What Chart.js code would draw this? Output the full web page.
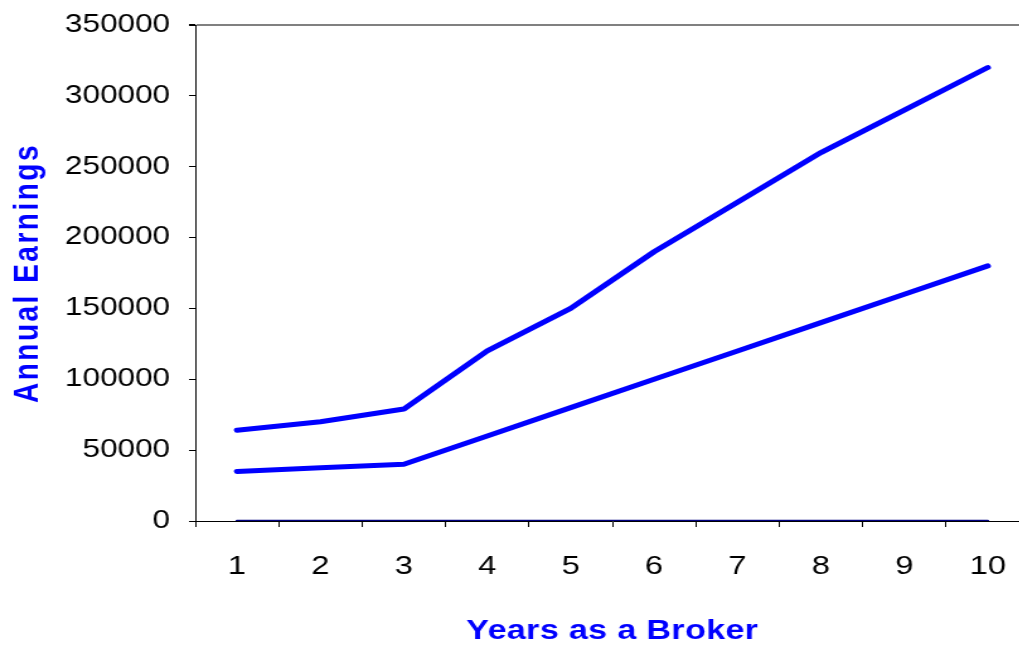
<!DOCTYPE html>
<html>
<head>
<meta charset="utf-8">
<title>Annual Earnings vs Years as a Broker</title>
<script src="https://cdn.jsdelivr.net/npm/chart.js@4.4.1/dist/chart.umd.min.js"></script>
<style>
  html, body { margin: 0; padding: 0; background: #fff; overflow: hidden; }
  /* the original chart is stretched sideways, text included */
  #wrap { width: 830px; height: 645px; transform: scaleX(1.26); transform-origin: 0 0; }
</style>
</head>
<body>
<div id="wrap"><canvas id="chart"></canvas></div>
<script>
  const years = ['1', '2', '3', '4', '5', '6', '7', '8', '9', '10'];
  const upperEarnings = [64000, 70000, 79000, 120000, 150000, 190000, 225000, 260000, 290000, 320000];
  const lowerEarnings = [35000, 37500, 40000, 60000, 80000, 100000, 120000, 140000, 160000, 180000];
  const baseEarnings = [0, 0, 0, 0, 0, 0, 0, 0, 0, 0];
  const yTicks = [0, 50000, 100000, 150000, 200000, 250000, 300000, 350000];

  const FONT = "'Liberation Sans', Arial, sans-serif";
  const blue = '#0000ff';

  // canvas text has no letter-spacing option in Chart.js, so set it around the axis titles
  const titleSpacing = {
    id: 'titleSpacing',
    beforeDraw(chart) {
      Object.values(chart.scales).forEach((s) => {
        if (s._spacedTitle) return;
        const drawTitle = s.drawTitle.bind(s);
        s.drawTitle = function () {
          const ctx = this.ctx;
          ctx.save();
          ctx.letterSpacing = this.options.title.spacing || '0px';
          drawTitle();
          ctx.restore();
        };
        s._spacedTitle = true;
      });
    },
  };

  const line = (data, color, width) => ({
    data,
    borderColor: color,
    backgroundColor: color,
    borderWidth: width,
    pointRadius: 0,
    pointHoverRadius: 0,
    tension: 0,
    fill: false,
    borderCapStyle: 'round',
    borderJoinStyle: 'round',
  });

  new Chart(document.getElementById('chart'), {
    type: 'line',
    data: {
      labels: years,
      datasets: [
        line(upperEarnings, blue, 5),
        line(lowerEarnings, blue, 5),
        line(baseEarnings, '#000080', 2.5),
      ],
    },
    options: {
      responsive: true,
      maintainAspectRatio: false,
      animation: false,
      devicePixelRatio: 1,
      layout: { padding: { top: 25, right: 13, left: 0, bottom: 0 } },
      plugins: { legend: { display: false }, tooltip: { enabled: false } },
      scales: {
        x: {
          type: 'category',
          offset: true,
          grid: { offset: true, drawOnChartArea: false, tickLength: 6, tickColor: '#000', lineWidth: 1 },
          border: { color: '#000', width: 1 },
          ticks: { color: '#000', font: { family: FONT, size: 26 }, padding: 24, maxRotation: 0, autoSkip: false },
          title: {
            display: true,
            text: 'Years as a Broker',
            color: blue,
            font: { family: FONT, size: 27, weight: 'bold', lineHeight: 1.0 },
            padding: { top: 0, bottom: 0 },
            spacing: '0.3px',
          },
          afterFit: (s) => { s.height = 124; },
        },
        y: {
          min: 0,
          max: 350000,
          afterBuildTicks: (s) => { s.ticks = yTicks.map((v) => ({ value: v })); },
          grid: {
            drawOnChartArea: true,
            color: (c) => (c.tick && c.tick.value === 350000 ? '#808080' : 'rgba(0,0,0,0)'),
            lineWidth: (c) => (c.tick && c.tick.value === 350000 ? 2 : 1),
            tickColor: '#000',
            tickLength: 5,
          },
          border: { color: '#000', width: 1 },
          ticks: { color: '#000', font: { family: FONT, size: 25 }, padding: 15, callback: (v) => String(v) },
          title: {
            display: true,
            text: 'Annual Earnings',
            color: blue,
            font: { family: FONT, size: 28, weight: 'bold', lineHeight: 1.2 },
            padding: { top: 5, bottom: 0 },
            spacing: '2.5px',
          },
          afterFit: (s) => {
            s.width = 155;
            // tick padding would otherwise push the plot top down
            s.paddingTop = 0;
            s.paddingBottom = 0;
          },
        },
      },
    },
    plugins: [titleSpacing],
  });
</script>
</body>
</html>
